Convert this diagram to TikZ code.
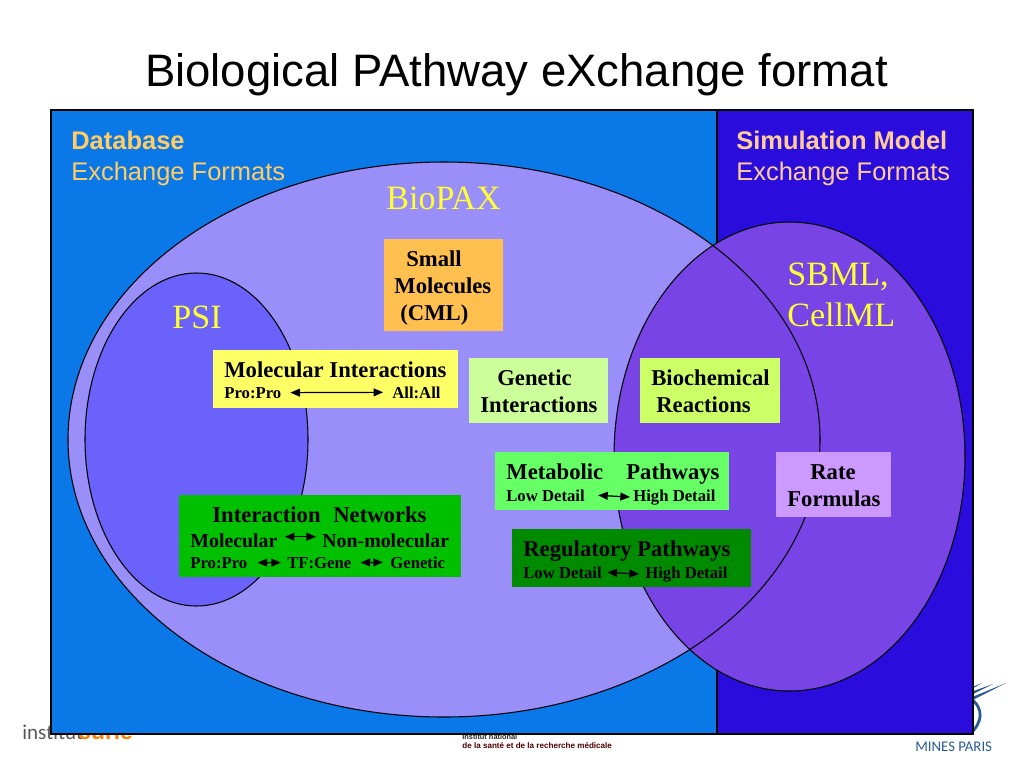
\documentclass[tikz,border=0pt]{standalone}
\usepackage{fontspec}
\setmainfont{Liberation Serif}
\setsansfont{Liberation Sans}
\newfontfamily\minesfont{Carlito}
\usetikzlibrary{arrows.meta}
\definecolor{dbblue}{HTML}{0A78E6}
\definecolor{simblue}{HTML}{2A0CDC}
\definecolor{biopaxfill}{HTML}{9A8EF8}
\definecolor{psifill}{HTML}{6A62FA}
\definecolor{sbmlfill}{HTML}{7844E6}
\definecolor{molyellow}{HTML}{FFFF66}
\definecolor{smallorange}{HTML}{FFC050}
\definecolor{geneticgreen}{HTML}{CCFF99}
\definecolor{biochemgreen}{HTML}{CCFF66}
\definecolor{metabgreen}{HTML}{66FF66}
\definecolor{netgreen}{HTML}{00C000}
\definecolor{reggreen}{HTML}{008A00}
\definecolor{ratepurple}{HTML}{CC99FF}
\definecolor{dbgold}{HTML}{FFCC66}
\definecolor{simpeach}{HTML}{FFCC99}
\definecolor{setyellow}{HTML}{FFFF33}
\definecolor{minesblue}{HTML}{2A5A94}
\tikzset{
    thinline/.style = {
        draw=black, line width=0.6pt
    },
    big/.style = {
        font=\fontsize{12.9}{14}\selectfont\bfseries, text=black, inner sep=0pt, anchor=base west
    },
    mid/.style = {
        font=\fontsize{11.3}{13}\selectfont\bfseries, text=black, inner sep=0pt, anchor=base west
    },
    tiny/.style = {
        font=\fontsize{9.5}{11}\selectfont\bfseries, text=black, inner sep=0pt, anchor=base west
    },
    setname/.style = {
        font=\fontsize{19.4}{21}\selectfont, text=setyellow, inner sep=0pt, anchor=base west
    },
    head/.style = {
        font=\sffamily\fontsize{14.5}{16}\selectfont, inner sep=0pt, anchor=base west
    },
    headbold/.style = {
        font=\sffamily\bfseries\fontsize{14.5}{16}\selectfont, inner sep=0pt, anchor=base west
    },
    logo/.style = {
        inner sep=0pt, anchor=base west
    },
    link/.style = {
        <->, >={Stealth[inset=0pt,width=4.5pt,length=5.5pt]}, line width=0.7pt
    },
}
\begin{document}
\begin{tikzpicture}[x=0.02cm, y=-0.02cm]
        \useasboundingbox (0,0) rectangle (1024,768);

        % Logos behind the panels
        \node[logo, text=black!65, font=\minesfont\fontsize{12}{13}\selectfont] (curie1) at (22,739) {institut};
        \node[logo, text=orange, font=\sffamily\bfseries\fontsize{13}{14}\selectfont] (curie2) at (78,739) {curie};
        \node[logo, text=black!85, font=\sffamily\bfseries\fontsize{4.2}{5}\selectfont] (ins1) at (462,739) {Institut national};
        \node[logo, text=black!70!red, font=\sffamily\bfseries\fontsize{4.6}{5}\selectfont] (ins2) at (462,748) {de la santé et de la recherche médicale};
        \node[logo, text=minesblue, font=\minesfont\fontsize{8.4}{10}\selectfont] (mines) at (915,751) {MINES PARIS};
        \fill[minesblue] (1006,683) -- (965,700) -- (965,704) -- cycle;
        \fill[minesblue] (993,684) -- (965,694) -- (965,698) -- cycle;
        \fill[minesblue] (982,683) -- (965,690) -- (965,693) -- cycle;
        \draw[minesblue, line width=1.6pt] (970,698) .. controls (984,708) and (983,722) .. (970,734);

        % Place the panels
        \draw[thinline, fill=dbblue] (51,110) rectangle (717,734);
        \draw[thinline, fill=simblue] (717,110) rectangle (973,734);

        % Place the sets
        \fill[biopaxfill] (444,439.5) ellipse [x radius=376, y radius=277.5];
        \draw[thinline, fill=psifill] (196.5,439.5) ellipse [x radius=111.5, y radius=166.5];
        \draw[thinline, fill=sbmlfill] (789.5,456.5) ellipse [x radius=175.5, y radius=234.5];
        \draw[thinline] (444,439.5) ellipse [x radius=376, y radius=277.5];

        % Place the headings
        \node[inner sep=0pt, anchor=base, font=\sffamily\fontsize{25.9}{28}\selectfont] (title) at (516.5,86) {Biological PAthway eXchange format};
        \node[headbold, text=dbgold] (dbA) at (71,149) {Database};
        \node[head, text=dbgold] (dbB) at (71,180) {Exchange Formats};
        \node[headbold, text=simpeach] (simA) at (736,149) {Simulation Model};
        \node[head, text=simpeach] (simB) at (736,180) {Exchange Formats};
        \node[setname] (biopax) at (386,209) {BioPAX};
        \node[setname] (psi) at (172,328) {PSI};
        \node[setname] (sbmlA) at (787,285) {SBML,};
        \node[setname] (sbmlB) at (787,326) {CellML};

        % Place the blocks
        \fill[smallorange] (384,239) rectangle (503,331);
        \node[big] (small1) at (406,266) {Small};
        \node[big] (small2) at (394,293) {Molecules};
        \node[big] (small3) at (400,320) {(CML)};

        \fill[molyellow] (213,350) rectangle (458,408);
        \node[big] (mol) at (224,377) {Molecular Interactions};
        \node[tiny] (molA) at (224,398) {Pro:Pro};
        \node[tiny] (molB) at (392,398) {All:All};
        \draw[link] ([xshift=5pt]molA.east) -- ([xshift=-5pt]molB.west);

        \fill[geneticgreen] (469,358) rectangle (608,423);
        \node[big] (gen1) at (497,385) {Genetic};
        \node[big] (gen2) at (480,412) {Interactions};

        \fill[biochemgreen] (640,358) rectangle (780,423);
        \node[big] (bio1) at (651,385) {Biochemical};
        \node[big] (bio2) at (656,412) {Reactions};

        \fill[metabgreen] (495,452) rectangle (729,510);
        \node[big] (met1) at (506,479) {Metabolic};
        \node[big] (met2) at (626,479) {Pathways};
        \node[tiny] (metA) at (506,501) {Low Detail};
        \node[tiny] (metB) at (633,501) {High Detail};
        \draw[link] ([xshift=7.4pt]metA.east) -- ([xshift=-1.7pt]metB.west);

        \fill[ratepurple] (776,452) rectangle (891,517);
        \node[big] (rate1) at (810,479) {Rate};
        \node[big] (rate2) at (787,506) {Formulas};

        \fill[reggreen] (512,529) rectangle (751,587);
        \node[big] (reg1) at (523,556) {Regulatory Pathways};
        \node[tiny] (regA) at (523,578) {Low Detail};
        \node[tiny] (regB) at (645,578) {High Detail};
        \draw[link] ([xshift=3pt]regA.east) -- ([xshift=-3.4pt]regB.west);

        \fill[netgreen] (179,495) rectangle (461,577);
        \node[big] (net1) at (212,522) {Interaction};
        \node[big] (net2) at (333,522) {Networks};
        \node[mid] (net3) at (190,547) {Molecular};
        \node[mid] (net4) at (322,547) {Non-molecular};
        \node[tiny] (net5) at (190,568) {Pro:Pro};
        \node[tiny] (net6) at (287,568) {TF:Gene};
        \node[tiny] (net7) at (390,568) {Genetic};
        \draw[link] ([xshift=4pt,yshift=2pt]net3.east) -- ([xshift=-3.4pt,yshift=2pt]net4.west);
        \draw[link] ([xshift=5.7pt]net5.east) -- ([xshift=-3.4pt]net6.west);
        \draw[link] ([xshift=5pt]net6.east) -- ([xshift=-4pt]net7.west);
    \end{tikzpicture}
\end{document}
